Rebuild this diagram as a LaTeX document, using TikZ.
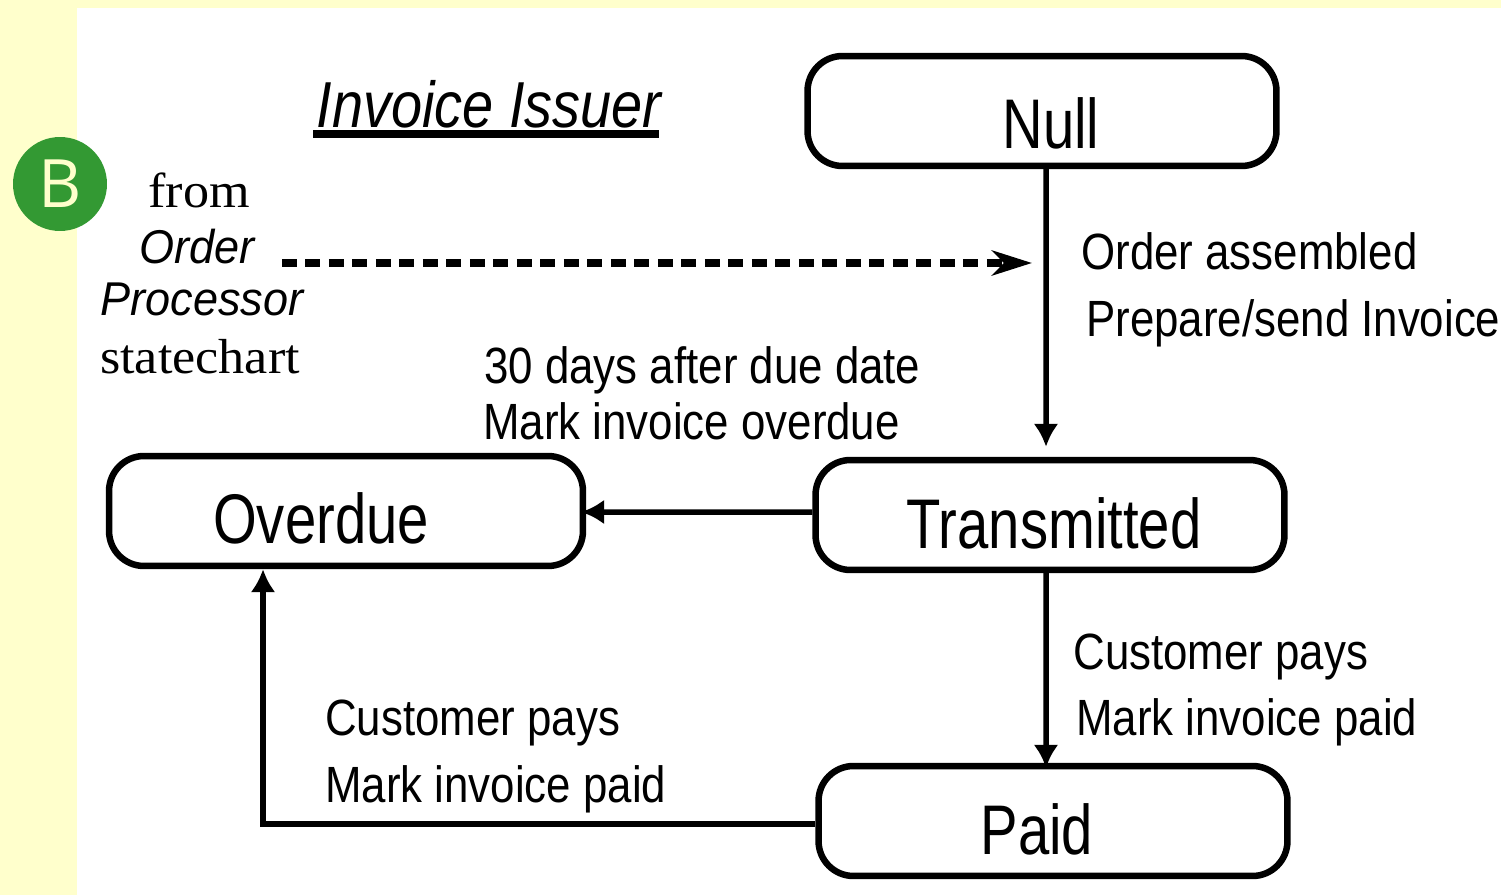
\documentclass[tikz,border=0pt]{standalone}
\usepackage{fontspec}
\setmainfont{Liberation Serif}
\newfontfamily\namesans[FakeStretch=0.8]{Liberation Sans}
\newfontfamily\narrowsans[FakeStretch=0.86]{Liberation Sans}
\newfontfamily\widesans[FakeStretch=0.95]{Liberation Sans}
\newfontfamily\wideserif[FakeStretch=1.06]{Liberation Serif}
\newfontfamily\badgefont{Open Sans}
\usetikzlibrary{arrows,arrows.meta,positioning,shapes}
\definecolor{pagebg}{HTML}{FFFFCC}
\definecolor{badgegreen}{HTML}{339933}

\begin{document}
\begin{tikzpicture}[
            x=.02cm,y=-.02cm,
            state/.style={draw,rectangle,rounded corners=.7cm,line width=.13cm,minimum width=9.38cm,minimum height=2.2cm},
            statename/.style={font=\namesans\fontsize{40}{40}\selectfont,inner sep=0},
            trans/.style={font=\narrowsans\fontsize{29}{29}\selectfont,inner sep=0,anchor=west},
            origin/.style={font=\widesans\itshape\fontsize{27}{27}\selectfont,inner sep=0},
            plain/.style={font=\wideserif\fontsize{28}{28}\selectfont,inner sep=0},
            every edge/.style={draw,-{Latex[length=.46cm,width=.5cm]},line width=.11cm}
          ]
          \useasboundingbox (0,0) rectangle (1501,895);
          \fill[pagebg] (0,0) rectangle (1501,895);
          \fill[white] (77,8) rectangle (1501,895);

          %badge
          \node[circle,fill=badgegreen,minimum size=1.88cm,inner sep=0,text=pagebg,font=\badgefont\fontsize{38}{38}\selectfont] (badge) at (60,184) {B};

          %title
          \node[font=\narrowsans\itshape\fontsize{37}{37}\selectfont,inner sep=0] (title) at (489,104) {Invoice Issuer};
          \coordinate (ruleleft) at (313,134);
          \coordinate (ruleright) at (659,134);
          \draw[line width=.15cm] (ruleleft) -- (ruleright);

          %states
          \node[state] (null) at (1042,111) {};
          \node[state] (transmitted) at (1050,515) {};
          \node[state,minimum width=9.48cm] (overdue) at (346,511) {};
          \node[state] (paid) at (1053,821) {};

          %state names
          \node[statename] (nulltext) at (1051,123) {Null};
          \node[statename] (transmittedtext) at (1054,523) {Transmitted};
          \node[statename] (overduetext) at (321,518) {Overdue};
          \node[statename] (paidtext) at (1037,829) {Paid};

          %source labels
          \node[plain] (from) at (199,190) {from};
          \node[origin] (order) at (197,247) {Order};
          \node[origin] (processor) at (202,299) {Processor};
          \node[plain] (statechart) at (200,357) {statechart};

          %transition labels
          \node[trans] (assembled) at (1081,251) {Order assembled};
          \node[trans] (prepare) at (1086,323) {Prepare/send Invoice};
          \node[trans] (days) at (484,370) {30 days after due date};
          \node[trans] (overduemark) at (483,421) {Mark invoice overdue};
          \node[trans] (pays1) at (1073,657) {Customer pays};
          \node[trans] (paid1) at (1076,722) {Mark invoice paid};
          \node[trans] (pays2) at (325,723) {Customer pays};
          \node[trans] (paid2) at (325,789) {Mark invoice paid};

          %dashed message
          \coordinate (dashstart) at (282,263);
          \coordinate (dashend) at (1032,263);
          \draw[line width=.16cm,dash pattern=on .3cm off .17cm,-{Stealth[length=.8cm,width=.5cm,inset=.24cm]}] (dashstart) -- (dashend);

          %transitions
          \path
          ([xshift=.08cm]null.south) edge[shorten >=.2cm] ([xshift=-.08cm]transmitted.north)
          ([yshift=.06cm]transmitted.west) edge[shorten >=-.1cm] ([yshift=-.02cm]overdue.east)
          ([xshift=-.08cm]transmitted.south) edge[shorten >=-.1cm] ([xshift=-.14cm]paid.north)
          ([yshift=-.06cm]paid.west) edge[to path={-| (\tikztotarget)}] ([xshift=-1.66cm]overdue.south)
          ;
      \end{tikzpicture}
\end{document}
